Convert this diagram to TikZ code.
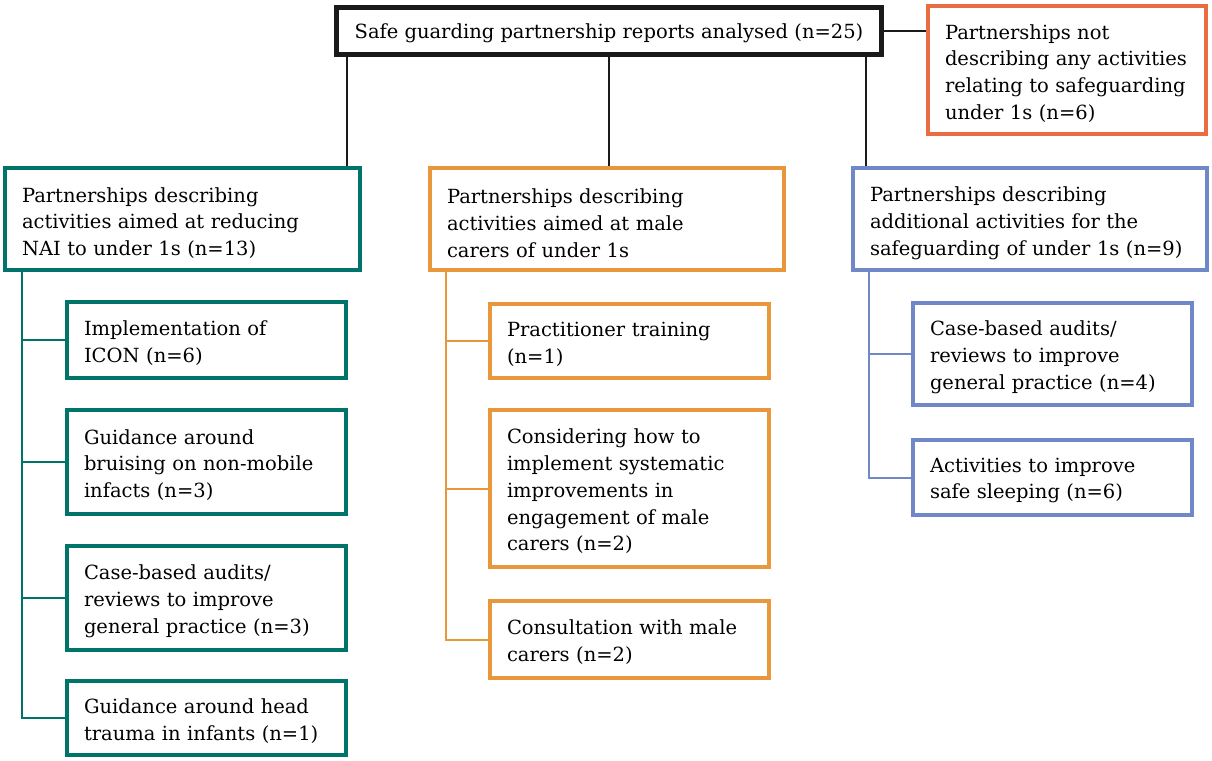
\documentclass[tikz,border=0pt]{standalone}
\usepackage{fontspec}
\setmainfont{DejaVu Serif}
\definecolor{cgreen}{HTML}{00736A}
\definecolor{corange}{HTML}{E8973A}
\definecolor{cblue}{HTML}{7088C8}
\definecolor{cred}{HTML}{E86D40}
\definecolor{cblack}{HTML}{1A1A1A}
\begin{document}
\begin{tikzpicture}[x=1pt,y=-1pt,
  txt/.style={font=\fontsize{19.5}{26.8}\selectfont, align=left, inner sep=0pt},
  box/.style={draw, fill=white, line width=4.5pt, inner sep=0pt},
  wide/.style={box, minimum width=355pt, minimum height=102pt},
  wtxt/.style={txt, text width=321pt},
  small/.style={box, minimum width=279pt},
  stxt/.style={txt, text width=245pt},
  conn/.style={line width=2pt}]
\useasboundingbox (0,0) rectangle (1212,760);
% top
\node[box, draw=cblack, line width=5.5pt, minimum width=545pt, minimum height=47pt] (top) at (609,31) {};
\node[txt, align=center] (topt) at ([yshift=-2pt]top.center) {Safe guarding partnership reports analysed (n=25)};
\node[box, draw=cred, minimum width=278pt, minimum height=128pt] (none) at (1067,70) {};
\node[txt, text width=244pt] (nonet) at ([yshift=-3.5pt]none.center) {Partnerships not\\describing any activities\\relating to safeguarding\\under 1s (n=6)};
% level 2
\node[wide, draw=cgreen] (g) at (182.5,219) {};
\node[wtxt] (gt) at ([yshift=-4pt]g.center) {Partnerships describing\\activities aimed at reducing\\NAI to under 1s (n=13)};
\node[wide, draw=corange, minimum width=354pt] (o) at (607,219) {};
\node[wtxt, text width=320pt] (ot) at ([yshift=-4pt]o.center) {Partnerships describing\\activities aimed at male\\carers of under 1s};
\node[wide, draw=cblue, minimum width=354pt] (b) at (1030,219) {};
\node[wtxt, text width=320pt] (bt) at ([yshift=-4pt]b.center) {Partnerships describing\\additional activities for the\\safeguarding of under 1s (n=9)};
% green children
\node[small, draw=cgreen, minimum height=76pt] (g1) at (206.5,340) {};
\node[stxt] (g1t) at ([yshift=-3pt]g1.center) {Implementation of\\ICON (n=6)};
\node[small, draw=cgreen, minimum height=104pt] (g2) at (206.5,462) {};
\node[stxt] (g2t) at ([yshift=-3pt]g2.center) {Guidance around\\bruising on non-mobile\\infacts (n=3)};
\node[small, draw=cgreen, minimum height=104pt] (g3) at (206.5,598) {};
\node[stxt] (g3t) at ([yshift=-3pt]g3.center) {Case-based audits/\\reviews to improve\\general practice (n=3)};
\node[small, draw=cgreen, minimum height=74pt] (g4) at (206.5,718) {};
\node[stxt] (g4t) at ([yshift=-3pt]g4.center) {Guidance around head\\trauma in infants (n=1)};
% orange children
\node[small, draw=corange, minimum height=74pt] (o1) at (629.5,341) {};
\node[stxt] (o1t) at ([yshift=-3pt]o1.center) {Practitioner training\\(n=1)};
\node[small, draw=corange, minimum height=157pt] (o2) at (629.5,488.5) {};
\node[stxt] (o2t) at ([yshift=-3pt]o2.center) {Considering how to\\implement systematic\\improvements in\\engagement of male\\carers (n=2)};
\node[small, draw=corange, minimum height=77pt] (o3) at (629.5,639.5) {};
\node[stxt] (o3t) at ([yshift=-3pt]o3.center) {Consultation with male\\carers (n=2)};
% blue children
\node[small, draw=cblue, minimum height=102pt] (b1) at (1052.5,354) {};
\node[stxt] (b1t) at ([yshift=-3.5pt]b1.center) {Case-based audits/\\reviews to improve\\general practice (n=4)};
\node[small, draw=cblue, minimum height=75pt] (b2) at (1052.5,477.5) {};
\node[stxt] (b2t) at ([yshift=-3pt]b2.center) {Activities to improve\\safe sleeping (n=6)};
% coordinates for connector columns
\coordinate (t1) at (347,0);
\coordinate (t2) at (609,0);
\coordinate (t3) at (866,0);
\coordinate (gx) at (22,0);
\coordinate (ox) at (446,0);
\coordinate (bx) at (869,0);
% connectors from top
\draw[conn, cblack] (top.east) -- (top.east -| none.west);
\draw[conn, cblack] (top.south -| t1) -- (g.north -| t1);
\draw[conn, cblack] (top.south -| t2) -- (o.north -| t2);
\draw[conn, cblack] (top.south -| t3) -- (b.north -| t3);
% green tree
\draw[conn, cgreen] (g.south -| gx) |- (g4.west);
\draw[conn, cgreen] (g1.west -| gx) -- (g1.west);
\draw[conn, cgreen] (g2.west -| gx) -- (g2.west);
\draw[conn, cgreen] (g3.west -| gx) -- (g3.west);
% orange tree
\draw[conn, corange] (o.south -| ox) |- (o3.west);
\draw[conn, corange] (o1.west -| ox) -- (o1.west);
\draw[conn, corange] (o2.west -| ox) -- (o2.west);
% blue tree
\draw[conn, cblue] (b.south -| bx) |- (b2.west);
\draw[conn, cblue] (b1.west -| bx) -- (b1.west);
\end{tikzpicture}
\end{document}
